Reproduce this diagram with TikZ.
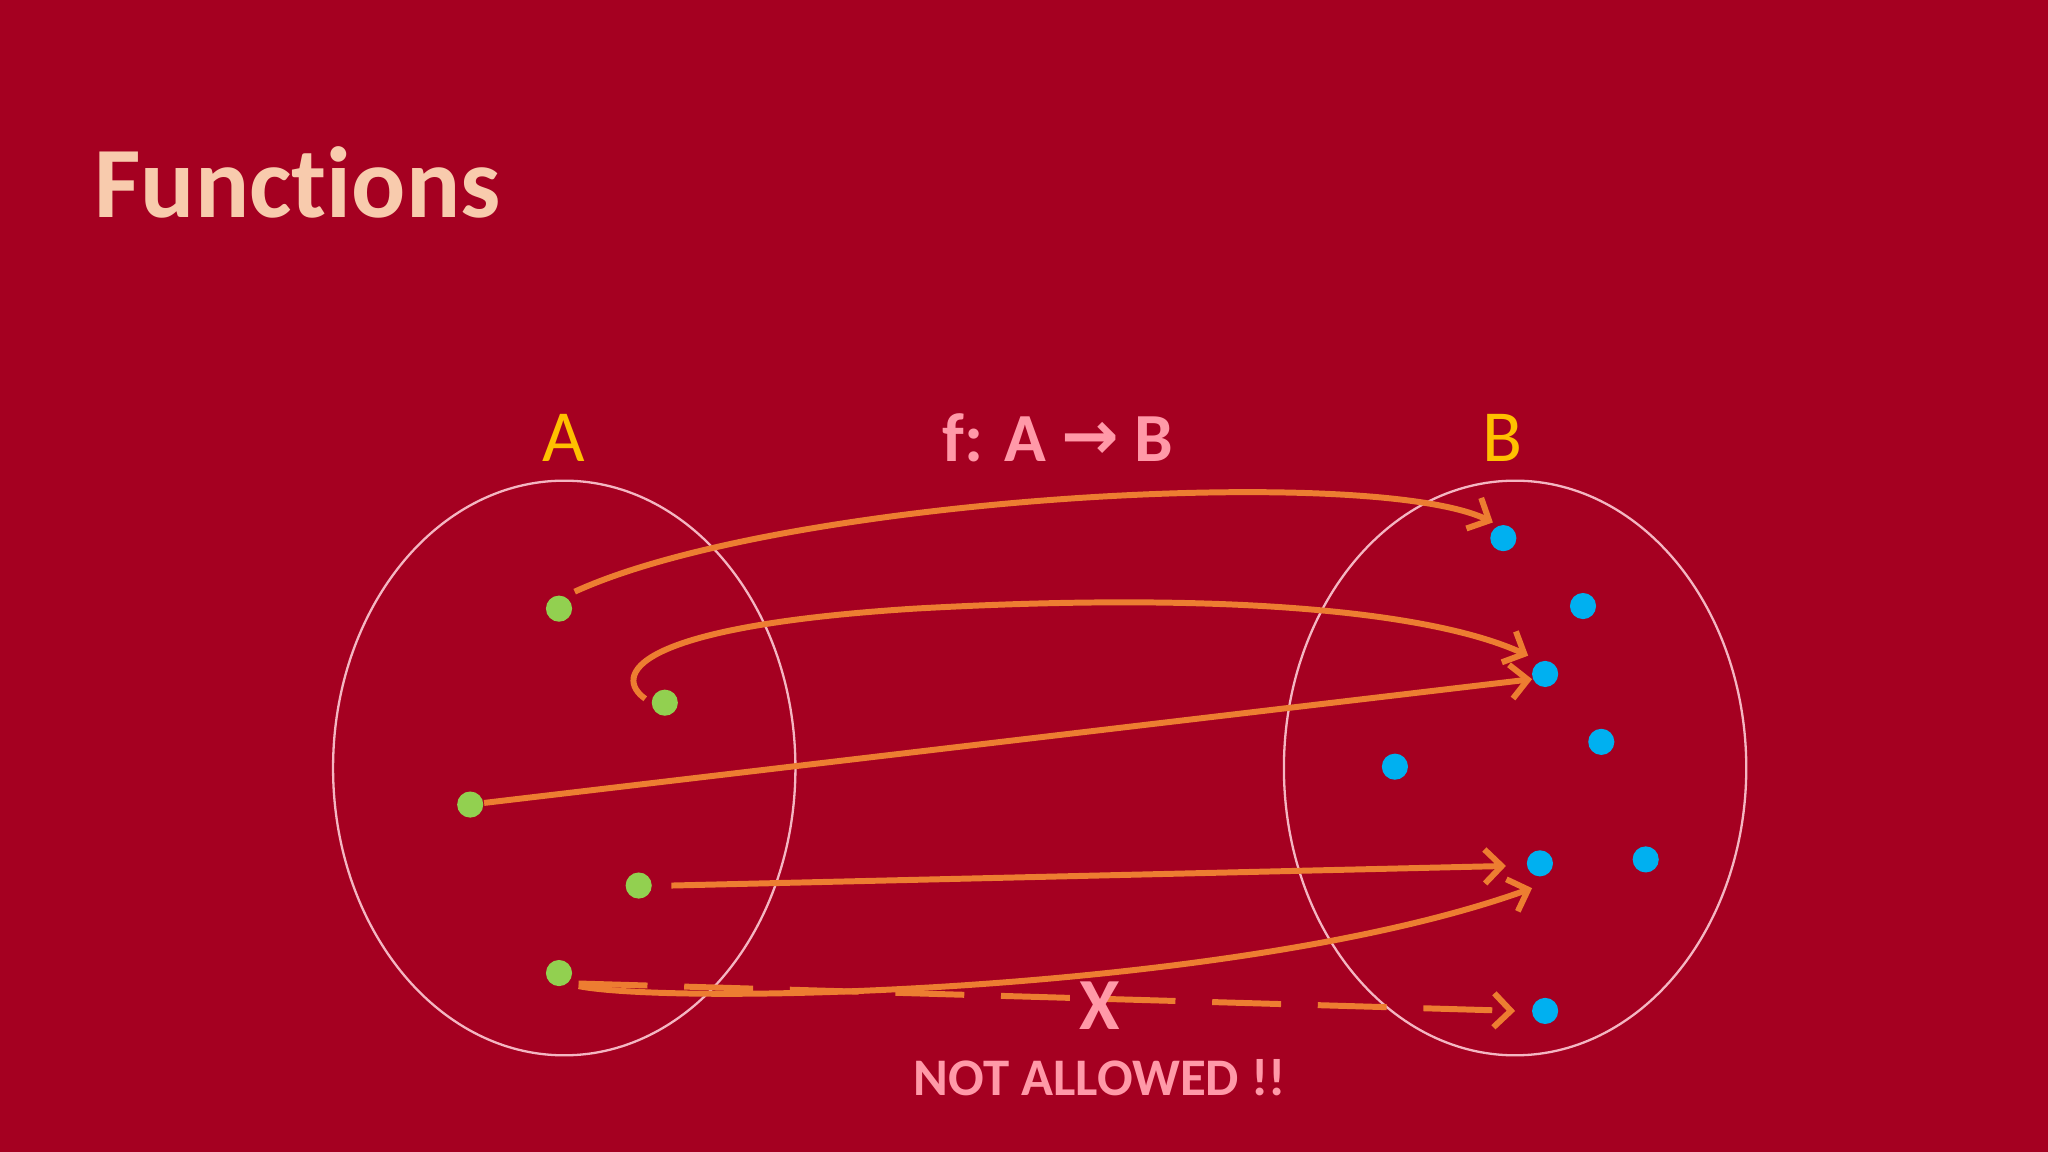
\documentclass[tikz,border=0pt]{standalone}
\usepackage{fontspec}
\setmainfont{Carlito}[Ligatures=NoCommon]
\usetikzlibrary{arrows.meta}
\definecolor{bg}{HTML}{A50021}
\definecolor{peach}{HTML}{F8CBAD}
\definecolor{gold}{HTML}{FFC000}
\definecolor{pinkt}{HTML}{FF99A8}
\definecolor{orng}{HTML}{ED7D31}
\definecolor{grn}{HTML}{92D050}
\definecolor{blu}{HTML}{00B0F0}
\definecolor{ell}{HTML}{F4B6C2}
\begin{document}
\begin{tikzpicture}[x=0.01cm,y=-0.01cm,
  setell/.style={draw=ell,line width=0.5pt},
  gdot/.style={circle,fill=grn,inner sep=0pt,minimum size=0.2cm},
  bdot/.style={circle,fill=blu,inner sep=0pt,minimum size=0.2cm},
  arr/.style={draw=orng,line width=1.3pt,-{Straight Barb[length=1.3mm,width=2.6mm]}},
  lbl/.style={font=\fontsize{16}{20}\selectfont}]
\fill[bg] (0,0) rectangle (1568,882);
\useasboundingbox (0,0) rectangle (1568,882);
\node[anchor=west,text=peach,font=\fontsize{22}{26}\selectfont\bfseries] (title) at (60,140) {Functions};
\draw[setell] (432,588) ellipse [x radius=177,y radius=220];
\draw[setell] (1160,588) ellipse [x radius=177,y radius=220];
\node[lbl,text=gold] (la) at (432,335) {A};
\node[lbl,text=gold] (lb) at (1150,335) {B};
\node[text=pinkt,font=\fontsize{15}{18}\selectfont\bfseries] (f) at (810,335) {f: A \raisebox{0.05ex}{\fontspec{DejaVu Sans}\bfseries →} B};
\node[gdot] (a1) at (428,466) {};
\node[gdot] (a2) at (509,538) {};
\node[gdot] (a3) at (360,616) {};
\node[gdot] (a4) at (489,678) {};
\node[gdot] (a5) at (428,745) {};
\node[bdot] (b1) at (1151,412) {};
\node[bdot] (b2) at (1212,464) {};
\node[bdot] (b3) at (1183,516) {};
\node[bdot] (b4) at (1226,568) {};
\node[bdot] (b5) at (1068,587) {};
\node[bdot] (b6) at (1179,661) {};
\node[bdot] (b7) at (1260,658) {};
\node[bdot] (b8) at (1183,774) {};
\coordinate (s1) at (440,453);
\coordinate (t1) at (1143,400);
\draw[arr] (s1) .. controls (600,380) and (1050,355) .. (t1);
\coordinate (s2) at (494,535);
\coordinate (t2) at (1170,502);
\draw[arr] (s2) .. controls (470,518) and (480,480) .. (700,466) .. controls (950,452) and (1100,470) .. (t2);
\coordinate (t3) at (1173,520);
\draw[arr] (a3) -- (t3);
\coordinate (s4) at (514,678);
\coordinate (t4) at (1153,663);
\draw[arr] (s4) -- (t4);
\coordinate (s5) at (443,755);
\coordinate (t5) at (1173,680);
\draw[arr] (s5) .. controls (520,770) and (950,760) .. (t5);
\coordinate (s6) at (443,753);
\coordinate (t6) at (1160,774);
\draw[arr,dashed,dash pattern=on 15pt off 8pt] (s6) -- (t6);
\node[text=pinkt,font=\fontsize{16}{20}\selectfont\bfseries] (x) at (842,770) {X};
\node[text=pinkt,font=\fontsize{11.5}{14}\selectfont\bfseries] (na) at (842,825) {NOT ALLOWED !!};
\end{tikzpicture}
\end{document}
